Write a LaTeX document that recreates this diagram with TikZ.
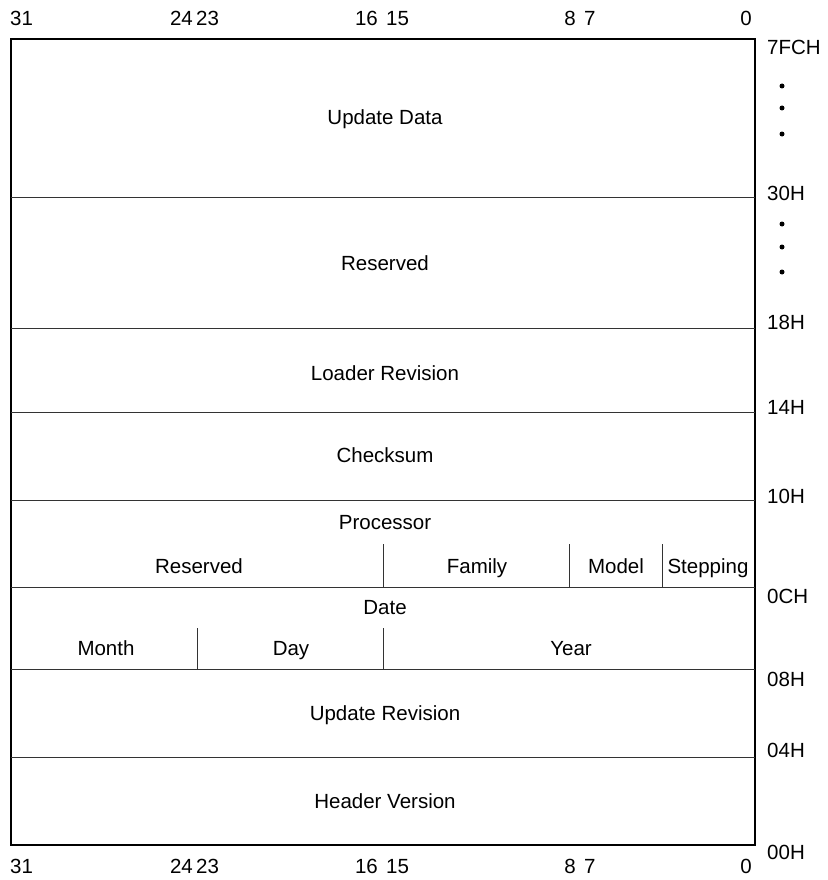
\documentclass[tikz,border=0pt]{standalone}
\usepackage{fontspec}
\setmainfont{Liberation Sans}
\begin{document}
\begin{tikzpicture}[x=1pt,y=-1pt,
  lbl/.style={inner sep=0pt, text height=14.5pt, text depth=0pt, font=\fontsize{20.5}{24}\selectfont},
  bitlbl/.style={lbl},
  addr/.style={lbl, anchor=west},
  frame/.style={line width=1.2pt, draw=black},
  rowline/.style={line width=1pt, draw=black!80},
  dotmark/.style={circle, fill=black, inner sep=0pt, minimum size=5pt}]
\useasboundingbox (0,0) rectangle (827,880);
% outer frame
\coordinate (tl) at (11,39);
\coordinate (br) at (755,845);
\draw[frame] (tl) rectangle (br);
% horizontal row lines
\foreach \yy in {197,328,412,500,587,669,757}
  \draw[rowline] (11,\yy) -- (755,\yy);
% vertical sub dividers
\draw[rowline] (383,544) -- (383,587);
\draw[rowline] (569,544) -- (569,587);
\draw[rowline] (662,544) -- (662,587);
\draw[rowline] (197,628) -- (197,669);
\draw[rowline] (383,628) -- (383,669);
% bit numbers top and bottom
\foreach \yy/\nm in {18/t,866/b}{
  \node[bitlbl, anchor=west] (b31\nm) at (10,\yy) {31};
  \node[bitlbl, anchor=east] (b24\nm) at (193,\yy) {24};
  \node[bitlbl, anchor=west] (b23\nm) at (196,\yy) {23};
  \node[bitlbl, anchor=east] (b16\nm) at (378,\yy) {16};
  \node[bitlbl, anchor=west] (b15\nm) at (386,\yy) {15};
  \node[bitlbl, anchor=east] (b8\nm) at (576,\yy) {8};
  \node[bitlbl, anchor=west] (b7\nm) at (584,\yy) {7};
  \node[bitlbl, anchor=east] (b0\nm) at (752,\yy) {0};
}
% address labels
\node[addr] (a7fc) at (767,47) {7FCH};
\node[addr] (a30) at (767,193) {30H};
\node[addr] (a18) at (767,322) {18H};
\node[addr] (a14) at (767,407) {14H};
\node[addr] (a10) at (767,496) {10H};
\node[addr] (a0c) at (767,596) {0CH};
\node[addr] (a08) at (767,679) {08H};
\node[addr] (a04) at (767,750) {04H};
\node[addr] (a00) at (767,852) {00H};
% dots
\foreach \yy in {86,108,134,224,247,272}
  \node[dotmark] at (782,\yy) {};
% field texts
\node[lbl] (upd) at (385,117) {Update Data};
\node[lbl] (res1) at (385,263) {Reserved};
\node[lbl] (ldr) at (385,373) {Loader Revision};
\node[lbl] (chk) at (385,455) {Checksum};
\node[lbl] (proc) at (385,522) {Processor};
\node[lbl] (res2) at (199,566) {Reserved};
\node[lbl] (fam) at (477,566) {Family};
\node[lbl] (mod) at (616,566) {Model};
\node[lbl] (stp) at (708,566) {Stepping};
\node[lbl] (date) at (385,607) {Date};
\node[lbl] (mon) at (106,648) {Month};
\node[lbl] (day) at (291,648) {Day};
\node[lbl] (year) at (571,648) {Year};
\node[lbl] (urev) at (385,713) {Update Revision};
\node[lbl] (hver) at (385,801) {Header Version};
\end{tikzpicture}
\end{document}
